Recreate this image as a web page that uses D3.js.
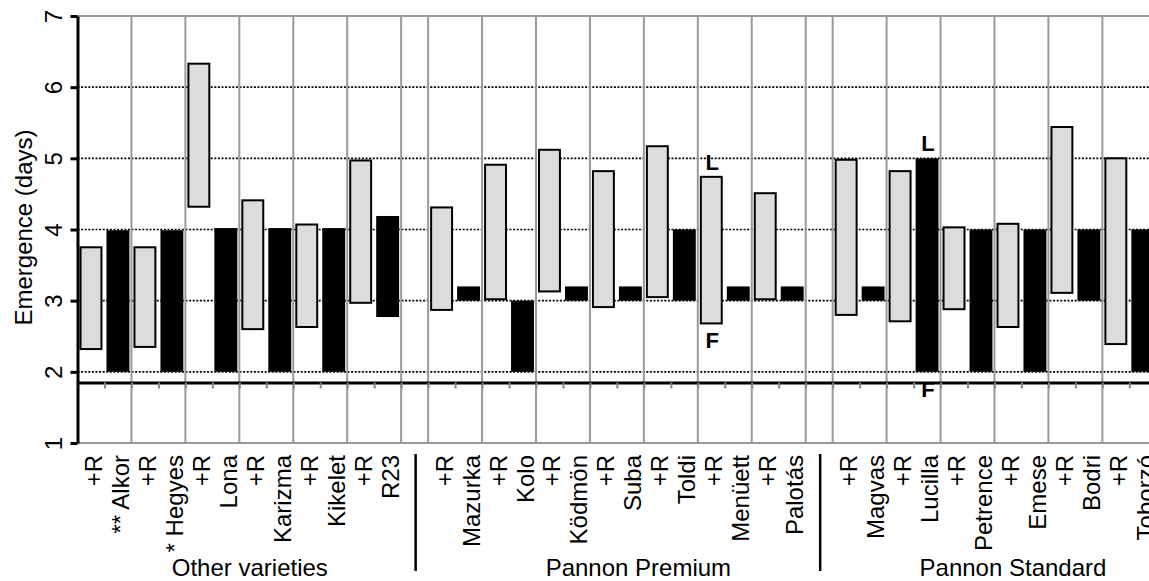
<!DOCTYPE html>
<html>
<head>
<meta charset="utf-8">
<script src="https://cdn.jsdelivr.net/npm/d3@7/dist/d3.min.js"></script>
<style>
  html, body { margin: 0; padding: 0; background: #fff; }
  svg { display: block; font-family: "Liberation Sans", Arial, sans-serif; }
</style>
</head>
<body>
<svg id="chart" width="1149" height="581"></svg>
<script>
// ---------------- data ----------------
const categories = ["+R","** Alkor","+R","* Hegyes","+R","Lona","+R","Karizma","+R","Kikelet","+R","R23","",
  "+R","Mazurka","+R","Kolo","+R","Ködmön","+R","Suba","+R","Toldi","+R","Menüett","+R","Palotás","",
  "+R","Magvas","+R","Lucilla","+R","Petrence","+R","Emese","+R","Bodri","+R","Toborzó"];
// "R" = with R (light bars), "V" = variety alone (black bars), "" = gap
const seriesType = ["R","V","R","V","R","V","R","V","R","V","R","V","",
  "R","V","R","V","R","V","R","V","R","V","R","V","R","V","",
  "R","V","R","V","R","V","R","V","R","V","R","V"];
const lows  = [2.32,2.00,2.35,2.00,4.32,2.00,2.60,2.00,2.63,2.00,2.97,2.77,null,
  2.87,3.00,3.02,2.00,3.13,3.00,2.91,3.00,3.05,3.00,2.68,3.00,3.02,3.00,null,
  2.80,3.00,2.71,2.00,2.88,2.00,2.63,2.00,3.11,3.00,2.39,2.00];
const highs = [3.75,3.99,3.75,3.99,6.33,4.02,4.41,4.02,4.07,4.02,4.97,4.19,null,
  4.31,3.20,4.91,3.00,5.12,3.20,4.82,3.20,5.17,4.00,4.74,3.20,4.51,3.20,null,
  4.98,3.20,4.82,5.00,4.03,4.00,4.08,4.00,5.44,4.00,5.00,4.00];
const groupNames  = ["Other varieties","Pannon Premium","Pannon Standard"];
const groupStarts = [0, 13, 28];
const groupEnds   = [13, 28, 41];
const gapCats     = [12, 27];
const yTicks      = [1,2,3,4,5,6,7];
const gridValues  = [2,3,4,5,6];
const axisCross   = 1.85;
const annotCats   = [23, 23, 31, 31];
const annotTexts  = ["L","F","L","F"];
const annotEnds   = ["high","low","high","low"];

// ---------------- layout ----------------
const W = 1149, H = 581;
const plotLeft = 77.5, catStep = 26.97, nCat = categories.length;
const plotTop = 16, plotBottom = 443;
const svg = d3.select("#chart");

const y = d3.scaleLinear().domain([1,7]).range([plotBottom, plotTop]);
const x = d3.scaleBand().domain(d3.range(nCat)).range([plotLeft, plotLeft + nCat*catStep])
  .paddingInner(0.15).paddingOuter(0.075);
const xb = d3.scaleLinear().domain([0, nCat]).range([plotLeft, plotLeft + nCat*catStep]);
const cx = i => x(i) + x.bandwidth()/2;

// dotted horizontal gridlines
svg.append("g").selectAll("line").data(gridValues).join("line")
  .attr("x1", plotLeft).attr("x2", W)
  .attr("y1", d => y(d)).attr("y2", d => y(d))
  .attr("stroke", "#000").attr("stroke-width", 1.6).attr("stroke-dasharray", "2,1.6");

// top & bottom border (gray)
svg.append("g").selectAll("line").data([7,1]).join("line")
  .attr("x1", plotLeft).attr("x2", W)
  .attr("y1", d => y(d)).attr("y2", d => y(d))
  .attr("stroke", "#999").attr("stroke-width", 2);

// vertical gray separators at pair boundaries
const vlines = [];
for (let i = 0; i < nCat; i++) {
  if (seriesType[i] === "R" && i > 0) vlines.push(i);
  if (seriesType[i] === "") { vlines.push(i); vlines.push(i+1); }
}
vlines.push(nCat);
const vset = Array.from(new Set(vlines)).filter(k => k > 0);
svg.append("g").selectAll("line").data(vset).join("line")
  .attr("x1", d => xb(d)).attr("x2", d => xb(d))
  .attr("y1", plotTop).attr("y2", plotBottom)
  .attr("stroke", "#999").attr("stroke-width", 2);

// bars
const barData = d3.range(nCat).filter(i => lows[i] != null).map(i => ({i, lo: lows[i], hi: highs[i], t: seriesType[i]}));
svg.append("g").selectAll("rect").data(barData).join("rect")
  .attr("x", d => d.t === "R" ? x(d.i) + 1 : x(d.i))
  .attr("width", d => d.t === "R" ? x.bandwidth() - 2 : x.bandwidth())
  .attr("y", d => y(d.hi))
  .attr("height", d => y(d.lo) - y(d.hi))
  .attr("fill", d => d.t === "R" ? "#dcdcdc" : "#000")
  .attr("stroke", d => d.t === "R" ? "#000" : "none")
  .attr("stroke-width", 2);

// category axis crossing at 1.85
const xAxis = d3.axisBottom(xb).tickValues(d3.range(0, nCat+1)).tickFormat("").tickSize(6).tickSizeOuter(0);
const gx = svg.append("g").attr("transform", `translate(0,${y(axisCross)})`).call(xAxis);
gx.select(".domain").attr("stroke", "#000").attr("stroke-width", 3);
gx.selectAll(".tick line").attr("stroke", "#888").attr("stroke-width", 2);

// y axis
const yAxis = d3.axisLeft(y).tickValues(yTicks).tickSize(7).tickSizeOuter(0).tickFormat(d3.format("d"));
const gy = svg.append("g").attr("transform", `translate(${plotLeft},0)`).call(yAxis);
gy.select(".domain").attr("stroke", "#000").attr("stroke-width", 3);
gy.selectAll(".tick line").attr("stroke", "#000").attr("stroke-width", 3);
gy.selectAll(".tick text")
  .attr("x", null).attr("dy", null)
  .attr("transform", "translate(-16,0) rotate(-90)")
  .attr("text-anchor", "middle")
  .attr("font-size", 24).attr("fill", "#000")
  .attr("font-family", "Liberation Sans, Arial, sans-serif");

// y title
svg.append("text")
  .attr("transform", `translate(32,${(plotTop+plotBottom)/2 - 2}) rotate(-90)`)
  .attr("text-anchor", "middle").attr("font-size", 24).attr("fill", "#000")
  .text("Emergence (days)");

// category labels
svg.append("g").selectAll("text").data(d3.range(nCat).filter(i => categories[i] !== "")).join("text")
  .attr("transform", i => `translate(${cx(i) + 11},455) rotate(-90)`)
  .attr("text-anchor", "end").attr("font-size", 24).attr("fill", "#000")
  .text(i => categories[i]);

// black separators between groups in label area
svg.append("g").selectAll("line").data(gapCats).join("line")
  .attr("x1", d => cx(d) + 1).attr("x2", d => cx(d) + 1)
  .attr("y1", 454).attr("y2", 571)
  .attr("stroke", "#000").attr("stroke-width", 2.5);

// group labels
const groupShift = [-3, 8, 5];
svg.append("g").selectAll("text").data(d3.range(groupNames.length)).join("text")
  .attr("x", g => xb((groupStarts[g] + groupEnds[g]) / 2) + groupShift[g])
  .attr("y", 576)
  .attr("text-anchor", "middle").attr("font-size", 24).attr("fill", "#000")
  .text(g => groupNames[g]);

// L / F annotations
svg.append("g").selectAll("text").data(d3.range(annotCats.length)).join("text")
  .attr("x", k => cx(annotCats[k]) + 1)
  .attr("y", k => annotEnds[k] === "high" ? y(highs[annotCats[k]]) - 7 : y(lows[annotCats[k]]) + 25)
  .attr("text-anchor", "middle").attr("font-size", 22).attr("font-weight", "bold").attr("fill", "#000")
  .text(k => annotTexts[k]);
</script>
</body>
</html>
